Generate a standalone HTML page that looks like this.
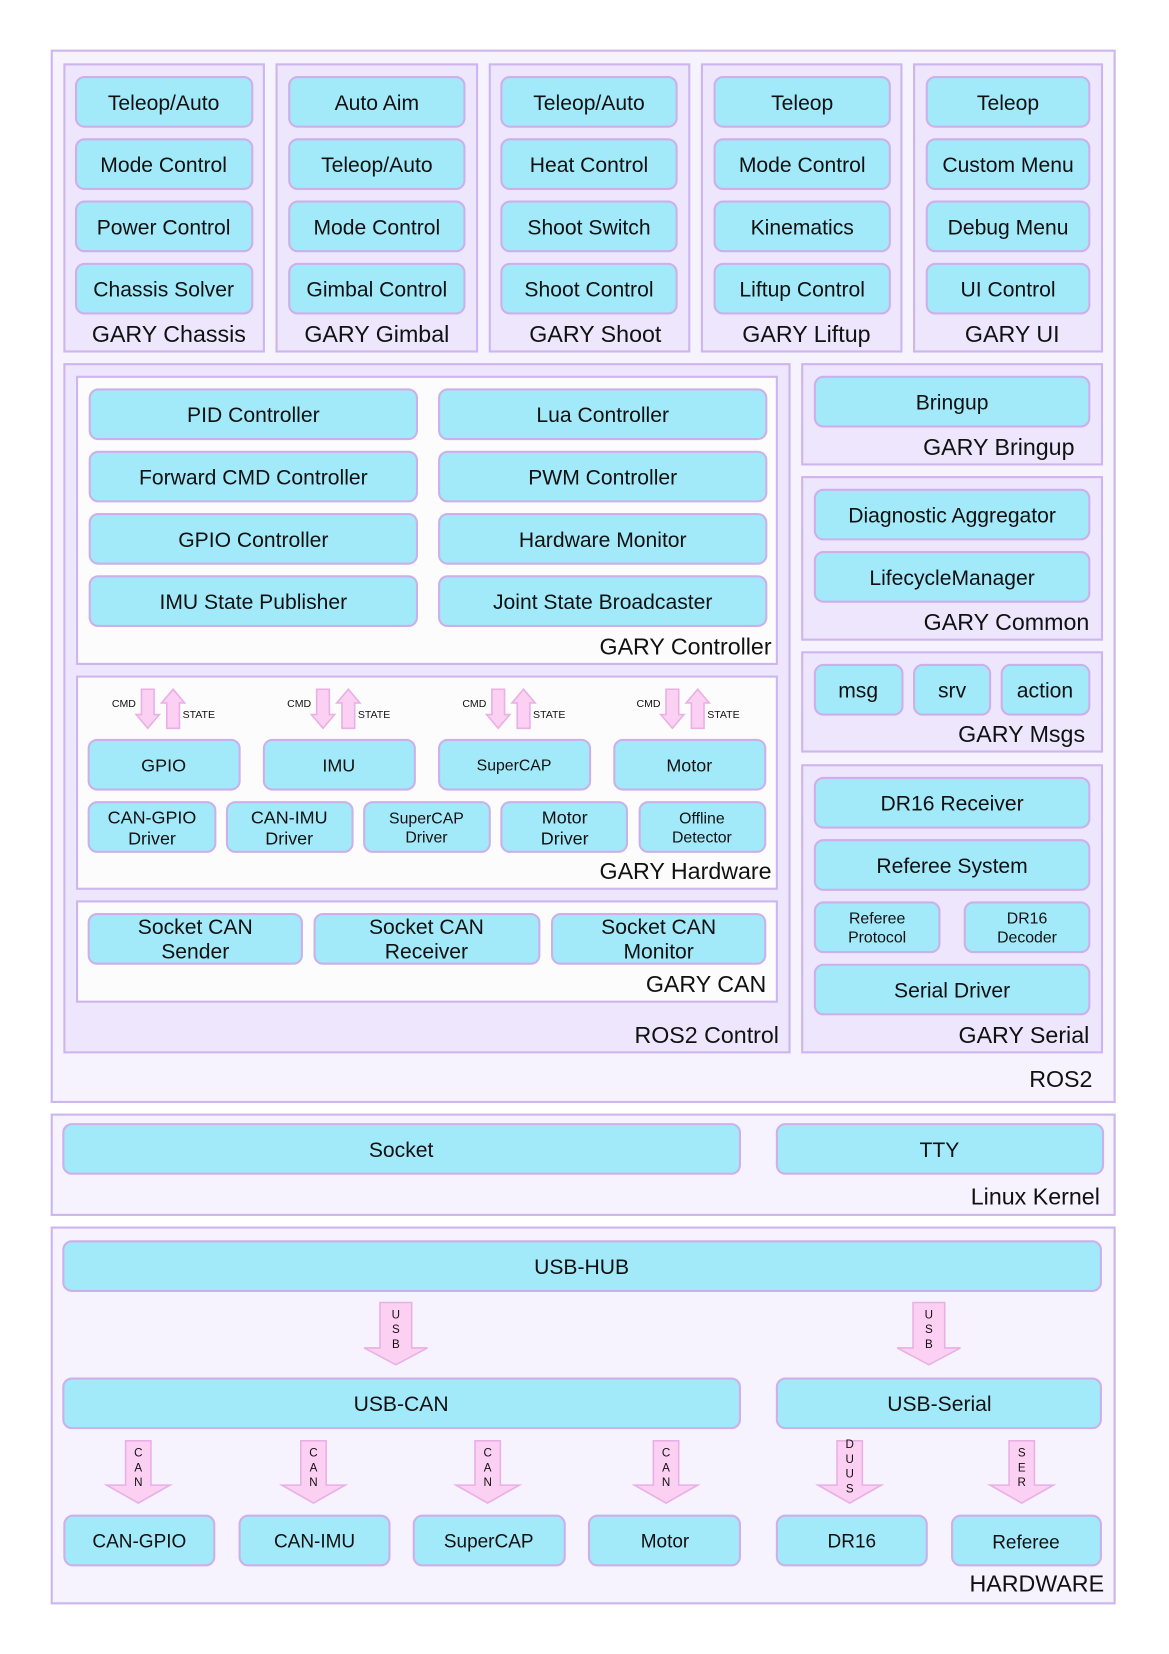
<!DOCTYPE html>
<html><head><meta charset="utf-8"><style>
html,body{margin:0;padding:0;background:#fff;}
svg{display:block;}
text{font-family:"Liberation Sans",sans-serif;fill:#111;}
.b{fill:#a2e9f9;stroke:#cdb0ea;stroke-width:2;}
.g{fill:#ede6fc;stroke:#cdb6ee;stroke-width:2;}
.o{fill:#f6f2fe;stroke:#cdb6ee;stroke-width:2;}
.w{fill:#fcfcfd;stroke:#cdb6ee;stroke-width:2;}
.a{fill:#fcd0f2;stroke:#e8b0e4;stroke-width:1.5;}
.t{font-size:20px;text-anchor:middle;}
.s{font-size:15px;text-anchor:middle;}
.l{font-size:22px;text-anchor:end;}
.lc{font-size:22px;text-anchor:middle;}
.x{font-size:10px;}
.u{font-size:11px;text-anchor:middle;}
</style></head><body>
<svg width="1169" height="1654" viewBox="0 0 1107.5 1567" xmlns="http://www.w3.org/2000/svg">
<!-- ROS2 -->
<rect class="o" x="49" y="48" width="1007" height="996"/>
<text class="l" x="1035" y="1030">ROS2</text>

<rect class="g" x="61" y="61" width="189" height="272"/>
<rect class="g" x="262" y="61" width="190" height="272"/>
<rect class="g" x="464" y="61" width="189" height="272"/>
<rect class="g" x="665" y="61" width="189" height="272"/>
<rect class="g" x="866" y="61" width="178" height="272"/>

<g>
<rect class="b" x="72" y="73" width="167" height="47" rx="8"/><text class="t" x="155" y="104">Teleop/Auto</text>
<rect class="b" x="72" y="132" width="167" height="47" rx="8"/><text class="t" x="155" y="163">Mode Control</text>
<rect class="b" x="72" y="191" width="167" height="47" rx="8"/><text class="t" x="155" y="222">Power Control</text>
<rect class="b" x="72" y="250" width="167" height="47" rx="8"/><text class="t" x="155" y="281">Chassis Solver</text>
<text class="lc" x="160" y="324">GARY Chassis</text>

<rect class="b" x="274" y="73" width="166" height="47" rx="8"/><text class="t" x="357" y="104">Auto Aim</text>
<rect class="b" x="274" y="132" width="166" height="47" rx="8"/><text class="t" x="357" y="163">Teleop/Auto</text>
<rect class="b" x="274" y="191" width="166" height="47" rx="8"/><text class="t" x="357" y="222">Mode Control</text>
<rect class="b" x="274" y="250" width="166" height="47" rx="8"/><text class="t" x="357" y="281">Gimbal Control</text>
<text class="lc" x="357" y="324">GARY Gimbal</text>

<rect class="b" x="475" y="73" width="166" height="47" rx="8"/><text class="t" x="558" y="104">Teleop/Auto</text>
<rect class="b" x="475" y="132" width="166" height="47" rx="8"/><text class="t" x="558" y="163">Heat Control</text>
<rect class="b" x="475" y="191" width="166" height="47" rx="8"/><text class="t" x="558" y="222">Shoot Switch</text>
<rect class="b" x="475" y="250" width="166" height="47" rx="8"/><text class="t" x="558" y="281">Shoot Control</text>
<text class="lc" x="564" y="324">GARY Shoot</text>

<rect class="b" x="677" y="73" width="166" height="47" rx="8"/><text class="t" x="760" y="104">Teleop</text>
<rect class="b" x="677" y="132" width="166" height="47" rx="8"/><text class="t" x="760" y="163">Mode Control</text>
<rect class="b" x="677" y="191" width="166" height="47" rx="8"/><text class="t" x="760" y="222">Kinematics</text>
<rect class="b" x="677" y="250" width="166" height="47" rx="8"/><text class="t" x="760" y="281">Liftup Control</text>
<text class="lc" x="764" y="324">GARY Liftup</text>

<rect class="b" x="878" y="73" width="154" height="47" rx="8"/><text class="t" x="955" y="104">Teleop</text>
<rect class="b" x="878" y="132" width="154" height="47" rx="8"/><text class="t" x="955" y="163">Custom Menu</text>
<rect class="b" x="878" y="191" width="154" height="47" rx="8"/><text class="t" x="955" y="222">Debug Menu</text>
<rect class="b" x="878" y="250" width="154" height="47" rx="8"/><text class="t" x="955" y="281">UI Control</text>
<text class="lc" x="959" y="324">GARY UI</text>
</g>

<rect class="g" x="61" y="345" width="687" height="652"/>
<text class="l" x="738" y="988">ROS2 Control</text>

<rect class="w" x="73" y="357" width="663" height="272"/>
<rect class="b" x="85" y="369" width="310" height="47" rx="8"/><text class="t" x="240" y="400">PID Controller</text>
<rect class="b" x="416" y="369" width="310" height="47" rx="8"/><text class="t" x="571" y="400">Lua Controller</text>
<rect class="b" x="85" y="428" width="310" height="47" rx="8"/><text class="t" x="240" y="459">Forward CMD Controller</text>
<rect class="b" x="416" y="428" width="310" height="47" rx="8"/><text class="t" x="571" y="459">PWM Controller</text>
<rect class="b" x="85" y="487" width="310" height="47" rx="8"/><text class="t" x="240" y="518">GPIO Controller</text>
<rect class="b" x="416" y="487" width="310" height="47" rx="8"/><text class="t" x="571" y="518">Hardware Monitor</text>
<rect class="b" x="85" y="546" width="310" height="47" rx="8"/><text class="t" x="240" y="577">IMU State Publisher</text>
<rect class="b" x="416" y="546" width="310" height="47" rx="8"/><text class="t" x="571" y="577">Joint State Broadcaster</text>
<text class="l" x="731" y="620">GARY Controller</text>

<rect class="w" x="73" y="641" width="663" height="201"/>
<g id="cs">
<path class="a" d="M134,653 H146 V677 H151 L140,690 L129,677 H134 Z"/>
<path class="a" d="M158,690 H170 V666 H175 L164,653 L153,666 H158 Z"/>
<text class="x" x="106" y="670">CMD</text>
<text class="x" x="173" y="680">STATE</text>
</g>
<use href="#cs" x="166"/>
<use href="#cs" x="332"/>
<use href="#cs" x="497"/>
<rect class="b" x="84" y="701" width="143" height="47" rx="8"/><text class="t" x="155" y="731" style="font-size:17px">GPIO</text>
<rect class="b" x="250" y="701" width="143" height="47" rx="8"/><text class="t" x="321" y="731" style="font-size:17px">IMU</text>
<rect class="b" x="416" y="701" width="143" height="47" rx="8"/><text class="s" x="487" y="730">SuperCAP</text>
<rect class="b" x="582" y="701" width="143" height="47" rx="8"/><text class="t" x="653" y="731" style="font-size:17px">Motor</text>
<rect class="b" x="84" y="760" width="120" height="47" rx="8"/><text class="t" x="144" y="780" style="font-size:17px">CAN-GPIO</text><text class="t" x="144" y="800" style="font-size:17px">Driver</text>
<rect class="b" x="215" y="760" width="119" height="47" rx="8"/><text class="t" x="274" y="780" style="font-size:17px">CAN-IMU</text><text class="t" x="274" y="800" style="font-size:17px">Driver</text>
<rect class="b" x="345" y="760" width="119" height="47" rx="8"/><text class="s" x="404" y="780">SuperCAP</text><text class="s" x="404" y="798">Driver</text>
<rect class="b" x="475" y="760" width="119" height="47" rx="8"/><text class="t" x="535" y="780" style="font-size:17px">Motor</text><text class="t" x="535" y="800" style="font-size:17px">Driver</text>
<rect class="b" x="606" y="760" width="119" height="47" rx="8"/><text class="s" x="665" y="780">Offline</text><text class="s" x="665" y="798">Detector</text>
<text class="l" x="731" y="833">GARY Hardware</text>

<rect class="w" x="73" y="854" width="663" height="95"/>
<rect class="b" x="84" y="866" width="202" height="47" rx="8"/><text class="t" x="185" y="885">Socket CAN</text><text class="t" x="185" y="908">Sender</text>
<rect class="b" x="298" y="866" width="213" height="47" rx="8"/><text class="t" x="404" y="885">Socket CAN</text><text class="t" x="404" y="908">Receiver</text>
<rect class="b" x="523" y="866" width="202" height="47" rx="8"/><text class="t" x="624" y="885">Socket CAN</text><text class="t" x="624" y="908">Monitor</text>
<text class="l" x="726" y="940">GARY CAN</text>

<rect class="g" x="760" y="345" width="284" height="95"/>
<rect class="b" x="772" y="357" width="260" height="47" rx="8"/><text class="t" x="902" y="388">Bringup</text>
<text class="l" x="1018" y="431">GARY Bringup</text>

<rect class="g" x="760" y="452" width="284" height="154"/>
<rect class="b" x="772" y="464" width="260" height="47" rx="8"/><text class="t" x="902" y="495">Diagnostic Aggregator</text>
<rect class="b" x="772" y="523" width="260" height="47" rx="8"/><text class="t" x="902" y="554">LifecycleManager</text>
<text class="l" x="1032" y="597">GARY Common</text>

<rect class="g" x="760" y="618" width="284" height="94"/>
<rect class="b" x="772" y="630" width="83" height="47" rx="8"/><text class="t" x="813" y="661">msg</text>
<rect class="b" x="866" y="630" width="72" height="47" rx="8"/><text class="t" x="902" y="661">srv</text>
<rect class="b" x="949" y="630" width="83" height="47" rx="8"/><text class="t" x="990" y="661">action</text>
<text class="l" x="1028" y="703">GARY Msgs</text>

<rect class="g" x="760" y="725" width="284" height="272"/>
<rect class="b" x="772" y="737" width="260" height="47" rx="8"/><text class="t" x="902" y="768">DR16 Receiver</text>
<rect class="b" x="772" y="796" width="260" height="47" rx="8"/><text class="t" x="902" y="827">Referee System</text>
<rect class="b" x="772" y="855" width="118" height="47" rx="8"/><text class="s" x="831" y="875">Referee</text><text class="s" x="831" y="893">Protocol</text>
<rect class="b" x="914" y="855" width="118" height="47" rx="8"/><text class="s" x="973" y="875">DR16</text><text class="s" x="973" y="893">Decoder</text>
<rect class="b" x="772" y="914" width="260" height="47" rx="8"/><text class="t" x="902" y="945">Serial Driver</text>
<text class="l" x="1032" y="988">GARY Serial</text>

<rect class="o" x="49" y="1056" width="1007" height="95"/>
<rect class="b" x="60" y="1065" width="641" height="47" rx="8"/><text class="t" x="380" y="1096">Socket</text>
<rect class="b" x="736" y="1065" width="309" height="47" rx="8"/><text class="t" x="890" y="1096">TTY</text>
<text class="l" x="1042" y="1141">Linux Kernel</text>

<rect class="o" x="49" y="1163" width="1007" height="356"/>
<rect class="b" x="60" y="1176" width="983" height="47" rx="8"/><text class="t" x="551" y="1207">USB-HUB</text>

<path class="a" d="M360,1234 H390 V1277 H405 L375,1293 L345,1277 H360 Z"/>
<text class="u" x="375" y="1249">U</text><text class="u" x="375" y="1263">S</text><text class="u" x="375" y="1277">B</text>
<path class="a" d="M865,1234 H895 V1277 H910 L880,1293 L850,1277 H865 Z"/>
<text class="u" x="880" y="1249">U</text><text class="u" x="880" y="1263">S</text><text class="u" x="880" y="1277">B</text>

<rect class="b" x="60" y="1306" width="641" height="47" rx="8"/><text class="t" x="380" y="1337">USB-CAN</text>
<rect class="b" x="736" y="1306" width="307" height="47" rx="8"/><text class="t" x="890" y="1337">USB-Serial</text>

<g id="ca">
<path class="a" d="M119,1365 H143 V1407 H161 L131,1424 L101,1407 H119 Z"/>
<text class="u" x="131" y="1380">C</text><text class="u" x="131" y="1394">A</text><text class="u" x="131" y="1408">N</text>
</g>
<use href="#ca" x="166"/>
<use href="#ca" x="331"/>
<use href="#ca" x="500"/>
<path class="a" d="M793,1365 H817 V1407 H835 L805,1424 L775,1407 H793 Z"/>
<text class="u" x="805" y="1372">D</text><text class="u" x="805" y="1386">U</text><text class="u" x="805" y="1400">U</text><text class="u" x="805" y="1414">S</text>
<path class="a" d="M956,1365 H980 V1407 H998 L968,1424 L938,1407 H956 Z"/>
<text class="u" x="968" y="1380">S</text><text class="u" x="968" y="1394">E</text><text class="u" x="968" y="1408">R</text>

<rect class="b" x="61" y="1436" width="142" height="47" rx="8"/><text class="t" x="132" y="1466" style="font-size:18px">CAN-GPIO</text>
<rect class="b" x="227" y="1436" width="142" height="47" rx="8"/><text class="t" x="298" y="1466" style="font-size:18px">CAN-IMU</text>
<rect class="b" x="392" y="1436" width="143" height="47" rx="8"/><text class="t" x="463" y="1466" style="font-size:18px">SuperCAP</text>
<rect class="b" x="558" y="1436" width="143" height="47" rx="8"/><text class="t" x="630" y="1466" style="font-size:18px">Motor</text>
<rect class="b" x="736" y="1436" width="142" height="47" rx="8"/><text class="t" x="807" y="1466" style="font-size:18px">DR16</text>
<rect class="b" x="902" y="1436" width="141" height="47" rx="8"/><text class="t" x="972" y="1467" style="font-size:18px">Referee</text>
<text class="l" x="1046" y="1508">HARDWARE</text>
</svg>
</body></html>
